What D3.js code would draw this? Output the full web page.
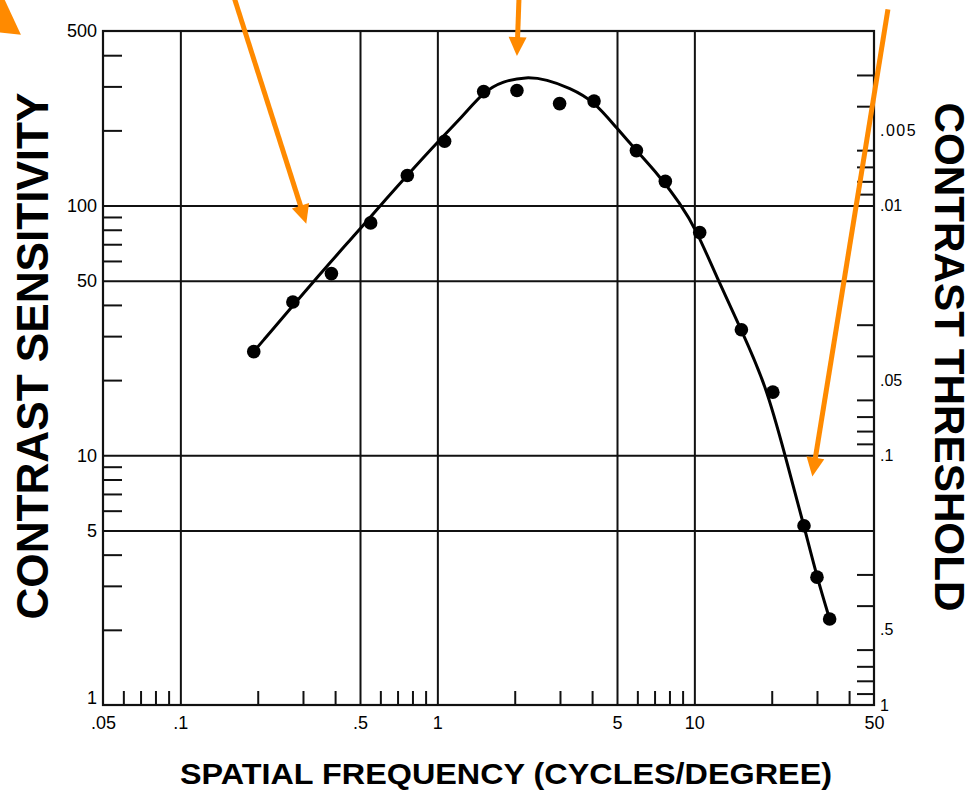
<!DOCTYPE html>
<html>
<head>
<meta charset="utf-8">
<script src="https://cdn.jsdelivr.net/npm/d3@7"></script>
<style>
  html, body { margin: 0; padding: 0; background: #fff; }
  svg { display: block; }
  text { font-family: "Liberation Sans", Arial, Helvetica, sans-serif; fill: #000; }
</style>
</head>
<body>
<svg id="chart" width="974" height="792"></svg>
<script>
// ---------- data ----------
const frequency   = [0.193, 0.274, 0.387, 0.550, 0.764, 1.067, 1.514, 2.04, 2.99, 4.07, 5.95, 7.71, 10.49, 15.24, 20.2, 26.7, 30.0, 33.6];
const sensitivity = [26.0, 41.1, 53.4, 85.2, 132, 181, 286, 289, 256, 262, 166, 125, 78, 31.8, 17.9, 5.22, 3.25, 2.21];

const fitFrequency   = [0.193, 0.338, 0.498, 0.596, 0.991, 1.258, 1.514, 1.80, 2.22, 2.66, 3.27, 4.07, 4.97, 5.95, 7.33, 8.77, 10.18, 12.18, 15.24, 19.05, 22.5, 26.7, 30.0, 33.6];
const fitSensitivity = [26.0, 51.3, 80.1, 99.4, 178, 228, 286, 315, 328, 320, 296, 262, 205, 166, 131, 102.5, 80, 52, 31.8, 18.9, 10.05, 5.22, 3.25, 2.21];

const xLabels      = [0.05, 0.1, 0.5, 1, 5, 10, 50];
const xGrid        = [0.1, 0.5, 1, 5, 10];
const xMinor       = [0.06, 0.07, 0.08, 0.09, 0.2, 0.3, 0.4, 0.6, 0.7, 0.8, 0.9, 2, 3, 4, 6, 7, 8, 9, 20, 30, 40];
const yLabels      = [1, 5, 10, 50, 100, 500];
const yGrid        = [5, 10, 50, 100];
const yMinor       = [2, 3, 4, 6, 7, 8, 9, 20, 30, 40, 60, 70, 80, 90, 200, 300, 400];
const thrLabels    = [0.005, 0.01, 0.05, 0.1, 0.5, 1];
const thrMinor     = [0.003, 0.004, 0.006, 0.007, 0.008, 0.009, 0.03, 0.04, 0.06, 0.07, 0.08, 0.09, 0.3, 0.4, 0.6, 0.7, 0.8, 0.9];

// annotation arrows (tail -> tip) in data coordinates (frequency, sensitivity)
const arrowTails = [[0.1627, 669.6], [2.077, 669.6], [56.65, 610.5], [0.01828, 320]];
const arrowTips  = [[0.309, 84.5],   [2.04, 396.7],  [28.78, 8.22],  [0.0200, 721]];

// ---------- layout ----------
const svg = d3.select("#chart");
const L = 103, R = 874, T = 31, B = 705;
const x  = d3.scaleLog().domain([0.05, 50]).range([L, R]);
const y  = d3.scaleLog().domain([1, 500]).range([B, T]);
const yT = d3.scaleLog().domain([1, 0.002]).range([B, T]);   // contrast threshold = 1/sensitivity

const ink = "#111";
const fmt = d => (d < 1 ? String(d).replace(/^0/, "") : String(d));

// gridlines
svg.append("g").attr("transform", `translate(0,${B})`)
  .call(d3.axisBottom(x).tickValues(xGrid).tickSize(-(B - T)).tickFormat(""))
  .call(g => g.select(".domain").remove())
  .call(g => g.selectAll("line").attr("stroke", ink).attr("stroke-width", 2));
svg.append("g").attr("transform", `translate(${L},0)`)
  .call(d3.axisLeft(y).tickValues(yGrid).tickSize(-(R - L)).tickFormat(""))
  .call(g => g.select(".domain").remove())
  .call(g => g.selectAll("line").attr("stroke", ink).attr("stroke-width", 2));

// minor ticks (inward)
svg.append("g").attr("transform", `translate(0,${B})`)
  .call(d3.axisBottom(x).tickValues(xMinor).tickSize(-14).tickFormat(""))
  .call(g => g.select(".domain").remove())
  .call(g => g.selectAll("line").attr("stroke", ink).attr("stroke-width", 2));
svg.append("g").attr("transform", `translate(${L},0)`)
  .call(d3.axisLeft(y).tickValues(yMinor).tickSize(-19).tickFormat(""))
  .call(g => g.select(".domain").remove())
  .call(g => g.selectAll("line").attr("stroke", ink).attr("stroke-width", 2));
svg.append("g").attr("transform", `translate(${R},0)`)
  .call(d3.axisRight(yT).tickValues(thrMinor).tickSize(-17).tickFormat(""))
  .call(g => g.select(".domain").remove())
  .call(g => g.selectAll("line").attr("stroke", ink).attr("stroke-width", 2));

// frame
svg.append("rect").attr("x", L).attr("y", T).attr("width", R - L).attr("height", B - T)
  .attr("fill", "none").attr("stroke", ink).attr("stroke-width", 2.2);

// labels
svg.append("g").attr("transform", `translate(${L},0)`)
  .call(d3.axisLeft(y).tickValues(yLabels).tickSize(0).tickPadding(6).tickFormat(fmt))
  .call(g => g.select(".domain").remove())
  .call(g => g.selectAll("text").attr("font-size", 18).attr("font-family", null)
    .attr("dy", d => d === 1 ? "-0.1em" : "0.32em"));
svg.append("g").attr("transform", `translate(0,${B})`)
  .call(d3.axisBottom(x).tickValues(xLabels).tickSize(0).tickPadding(11).tickFormat(fmt))
  .call(g => g.select(".domain").remove())
  .call(g => g.selectAll("text").attr("font-size", 18).attr("font-family", null));
svg.append("g").attr("transform", `translate(${R},0)`)
  .call(d3.axisRight(yT).tickValues(thrLabels).tickSize(0).tickPadding(6).tickFormat(fmt))
  .call(g => g.select(".domain").remove())
  .call(g => g.selectAll("text").attr("font-size", 16).attr("font-family", null)
    .attr("letter-spacing", d => d === 0.005 ? 1.5 : 0));

// fitted curve
const fit = fitFrequency.map((f, i) => [f, fitSensitivity[i]]);
svg.append("path").datum(fit)
  .attr("fill", "none").attr("stroke", "#000").attr("stroke-width", 3)
  .attr("d", d3.line().x(d => x(d[0])).y(d => y(d[1])).curve(d3.curveBasis));

// data points
const pts = frequency.map((f, i) => [f, sensitivity[i]]);
svg.append("g").selectAll("circle").data(pts).join("circle")
  .attr("cx", d => x(d[0])).attr("cy", d => y(d[1])).attr("r", 6.8).attr("fill", "#000");

// axis titles
svg.append("text").attr("transform", `translate(48,356) rotate(-90)`)
  .attr("text-anchor", "middle").attr("font-weight", "bold").attr("font-size", 44)
  .attr("textLength", 527).attr("lengthAdjust", "spacingAndGlyphs")
  .text("CONTRAST SENSITIVITY");
svg.append("text").attr("transform", `translate(935,357) rotate(90)`)
  .attr("text-anchor", "middle").attr("font-weight", "bold").attr("font-size", 43)
  .attr("textLength", 509).attr("lengthAdjust", "spacingAndGlyphs")
  .text("CONTRAST THRESHOLD");
svg.append("text").attr("x", 506).attr("y", 784)
  .attr("text-anchor", "middle").attr("font-weight", "bold").attr("font-size", 30)
  .attr("textLength", 652).attr("lengthAdjust", "spacingAndGlyphs")
  .text("SPATIAL FREQUENCY (CYCLES/DEGREE)");

// orange annotation arrows
const orange = "#ff8a00";
const arrowG = svg.append("g");
arrowTails.forEach((t, i) => {
  const p0 = [x(t[0]), y(t[1])], p1 = [x(arrowTips[i][0]), y(arrowTips[i][1])];
  const big = i === 3;
  const hl = big ? 41 : 19, hw = big ? 25 : 9, sw = big ? 6 : 5;
  const dx = p1[0] - p0[0], dy = p1[1] - p0[1], len = Math.hypot(dx, dy);
  const ux = dx / len, uy = dy / len, nx = -uy, ny = ux;
  const bx = p1[0] - ux * hl, by = p1[1] - uy * hl;
  arrowG.append("line").attr("x1", p0[0]).attr("y1", p0[1]).attr("x2", bx + ux * 2).attr("y2", by + uy * 2)
    .attr("stroke", orange).attr("stroke-width", sw);
  arrowG.append("path").attr("fill", orange)
    .attr("d", `M${p1[0]},${p1[1]}L${bx + nx * hw},${by + ny * hw}L${bx - nx * hw},${by - ny * hw}Z`);
});
</script>
</body>
</html>
